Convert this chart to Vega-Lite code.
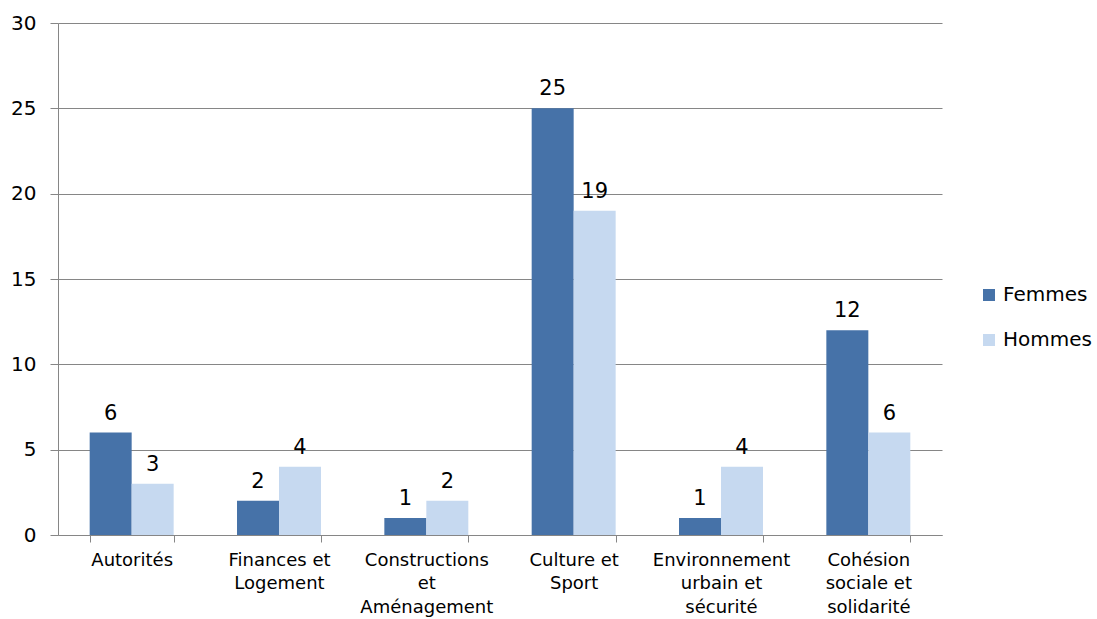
{
  "$schema": "https://vega.github.io/schema/vega-lite/v6.json",
  "width": 884,
  "height": 512,
  "autosize": {"type": "none"},
  "padding": {"left": 58, "top": 23, "right": 155, "bottom": 84},
  "background": "white",
  "data": {
    "values": [
      {"cat": "Autorités", "sexe": "Femmes", "n": 6},
      {"cat": "Autorités", "sexe": "Hommes", "n": 3},
      {"cat": "Finances et|Logement", "sexe": "Femmes", "n": 2},
      {"cat": "Finances et|Logement", "sexe": "Hommes", "n": 4},
      {"cat": "Constructions|et|Aménagement", "sexe": "Femmes", "n": 1},
      {"cat": "Constructions|et|Aménagement", "sexe": "Hommes", "n": 2},
      {"cat": "Culture et|Sport", "sexe": "Femmes", "n": 25},
      {"cat": "Culture et|Sport", "sexe": "Hommes", "n": 19},
      {"cat": "Environnement|urbain et|sécurité", "sexe": "Femmes", "n": 1},
      {"cat": "Environnement|urbain et|sécurité", "sexe": "Hommes", "n": 4},
      {"cat": "Cohésion|sociale et|solidarité", "sexe": "Femmes", "n": 12},
      {"cat": "Cohésion|sociale et|solidarité", "sexe": "Hommes", "n": 6}
    ]
  },
  "encoding": {
    "x": {
      "field": "cat",
      "type": "nominal",
      "sort": null,
      "scale": {"paddingInner": 0.43, "paddingOuter": 0.215},
      "axis": {
        "title": null,
        "labelAngle": 0,
        "labelExpr": "datum.value ? split(datum.value, '|') : ''",
        "labelFont": "DejaVu Sans",
        "labelFontSize": 18,
        "labelColor": "#000000",
        "labelLineHeight": 23.5,
        "labelPadding": 9,
        "labelBaseline": "top",
        "tickBand": "extent",
        "tickSize": 7,
        "tickColor": "#868686",
        "domainColor": "#868686",
        "grid": false
      }
    },
    "xOffset": {"field": "sexe", "type": "nominal", "scale": {"paddingInner": 0, "paddingOuter": 0}},
    "y": {
      "field": "n",
      "type": "quantitative",
      "scale": {"domain": [0, 30], "nice": false},
      "axis": {
        "title": null,
        "values": [0, 5, 10, 15, 20, 25, 30],
        "labelFont": "DejaVu Sans",
        "labelFontSize": 20,
        "labelColor": "#000000",
        "labelPadding": 14,
        "tickSize": 8,
        "tickColor": "#868686",
        "domainColor": "#868686",
        "gridColor": "#868686",
        "gridOpacity": 1
      }
    }
  },
  "layer": [
    {
      "mark": {"type": "bar"},
      "encoding": {
        "color": {
          "field": "sexe",
          "type": "nominal",
          "scale": {"domain": ["Femmes", "Hommes"], "range": ["#4672A8", "#C6D9F0"]},
          "legend": {
            "title": null,
            "orient": "none",
            "legendX": 921,
            "legendY": 262,
            "symbolType": "square",
            "symbolSize": 144,
            "symbolStrokeWidth": 0,
            "labelFont": "DejaVu Sans",
            "labelFontSize": 20,
            "labelColor": "#000000",
            "labelOffset": 4,
            "rowPadding": 25
          }
        }
      }
    },
    {
      "mark": {"type": "text", "font": "DejaVu Sans", "fontSize": 21, "color": "#000000", "baseline": "alphabetic", "dy": -13},
      "encoding": {"text": {"field": "n", "type": "quantitative"}}
    }
  ],
  "config": {"view": {"stroke": null}}
}
